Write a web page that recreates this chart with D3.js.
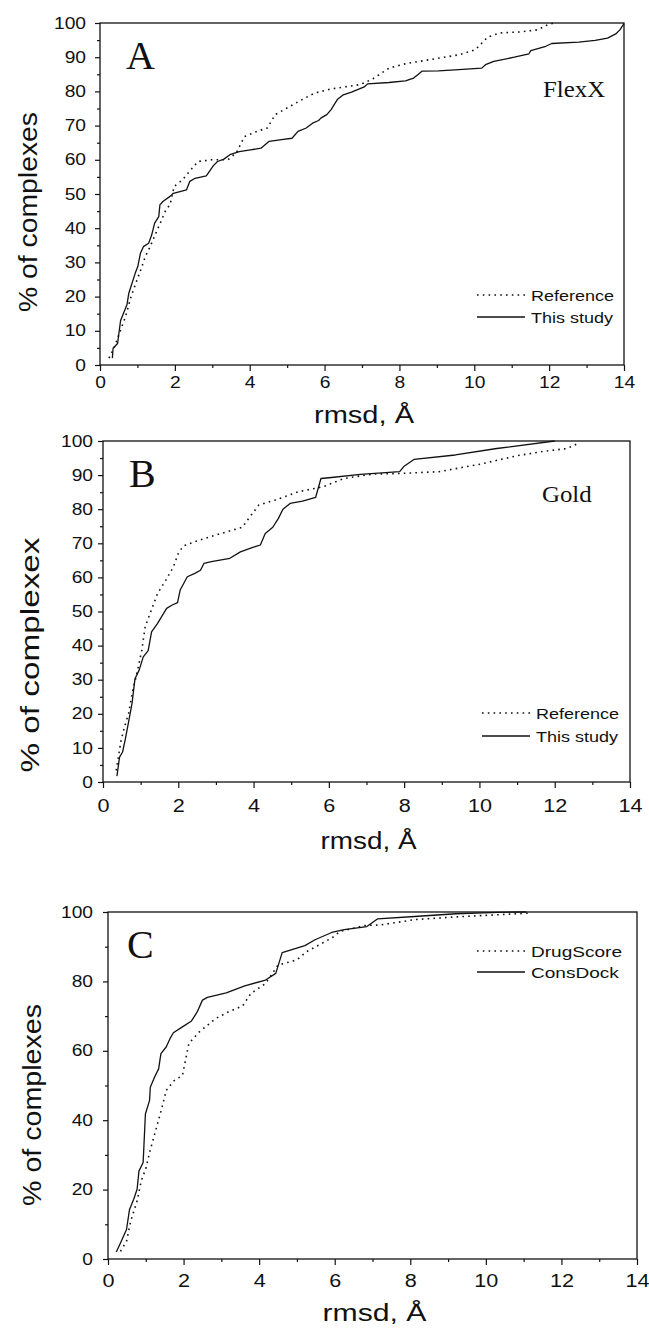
<!DOCTYPE html>
<html>
<head>
<meta charset="utf-8">
<script src="https://cdn.jsdelivr.net/npm/d3@7"></script>
<style>
  html, body { margin: 0; padding: 0; background: #fff; }
  svg { display: block; }
  text { font-family: Arial, "Liberation Sans", sans-serif; fill: #111; }
  .serif { font-family: "Times New Roman", "Liberation Serif", serif; }
</style>
</head>
<body>
<svg id="fig" width="649" height="1328"></svg>
<script>
// ---- data ----
var xTicks = [0, 2, 4, 6, 8, 10, 12, 14];
var xMinor = [1, 3, 5, 7, 9, 11, 13];
var yTicksAB = [0, 10, 20, 30, 40, 50, 60, 70, 80, 90, 100];
var yMinorAB = [5, 15, 25, 35, 45, 55, 65, 75, 85, 95];
var yTicksC = [0, 20, 40, 60, 80, 100];
var yMinorC = [10, 30, 50, 70, 90];

// A: FlexX
var flexxReference = [[0.24,2],[0.39,5.4],[0.55,10.2],[0.68,14.1],[0.83,20],[0.99,24.9],[1.12,28.8],[1.21,31.7],[1.34,34.6],[1.49,38.5],[1.63,42],[1.76,45.4],[1.87,46.8],[1.98,52.2],[2.2,54.1],[2.43,57.1],[2.62,59.5],[2.98,60],[3.42,60],[3.64,62],[3.86,66.8],[4.19,68.3],[4.47,69.3],[4.68,73.2],[5.07,75.6],[5.4,77.6],[5.73,79.5],[6.17,80.7],[6.95,82],[7.28,83.6],[7.72,86.8],[8.16,88.1],[8.93,89.5],[9.59,90.7],[10.03,92.2],[10.36,95.9],[10.69,97.1],[11.24,97.4],[11.69,98],[11.96,99.5],[12.13,100]];
var flexxThisStudy = [[0.33,2],[0.35,4.9],[0.47,6.3],[0.55,13],[0.72,17.6],[0.77,21],[0.94,26.8],[1.01,28.8],[1.08,32.7],[1.16,34.6],[1.3,35.6],[1.38,38],[1.46,41.5],[1.57,43.4],[1.6,46.8],[1.68,47.8],[1.87,49.3],[1.96,50.2],[2.31,51.2],[2.4,53.7],[2.54,54.6],[2.84,55.3],[3.03,58.3],[3.14,59.5],[3.31,60.2],[3.47,61.5],[3.72,62.4],[4.02,62.9],[4.3,63.4],[4.41,64.4],[4.52,65.4],[4.85,65.9],[5.13,66.3],[5.29,68.3],[5.51,69.3],[5.68,70.7],[5.84,71.5],[5.9,72.2],[6.06,73.2],[6.17,74.6],[6.34,77.6],[6.5,79],[6.72,79.8],[7.06,81.3],[7.15,82.2],[7.72,82.6],[8.16,83.1],[8.38,83.9],[8.49,84.9],[8.6,85.9],[9.04,86],[9.48,86.3],[10.2,86.8],[10.3,87.8],[10.52,88.8],[11.07,90],[11.46,91],[11.51,91.9],[11.91,93.2],[12.07,94],[12.79,94.4],[13.23,94.9],[13.56,95.6],[13.78,96.8],[13.89,98],[14,99.8]];

// B: Gold
var goldReference = [[0.35,3.4],[0.48,12.2],[0.57,16.1],[0.68,20.1],[0.79,26.9],[0.9,31.8],[1.03,38.6],[1.12,45.5],[1.25,49.4],[1.45,55.3],[1.67,59.2],[1.87,63.1],[2,67],[2.13,69.2],[2.44,70.5],[2.99,72.4],[3.7,74.7],[3.87,77.3],[4.14,81.2],[4.58,82.7],[5.19,85.1],[5.85,86.6],[6.4,89],[7.16,90.3],[7.93,90.5],[8.92,91],[10.02,93.2],[11.01,95.7],[11.67,96.9],[12.33,97.8],[12.66,99.5]];
var goldThisStudy = [[0.37,1.7],[0.44,7.3],[0.52,8.8],[0.59,12.4],[0.68,17.6],[0.77,23],[0.85,30.3],[0.96,32.8],[1.07,36.7],[1.2,38.5],[1.29,44],[1.45,46.5],[1.69,50.9],[1.84,51.9],[1.98,52.6],[2.05,56.3],[2.24,60.2],[2.44,61.2],[2.59,62.1],[2.68,64.1],[2.88,64.6],[3.37,65.6],[3.65,67.5],[3.98,68.8],[4.18,69.5],[4.31,72.9],[4.51,74.7],[4.66,77.3],[4.78,80],[4.97,81.7],[5.3,82.4],[5.65,83.5],[5.79,89],[6.07,89.3],[6.84,90.2],[7.88,91],[7.99,92.5],[8.26,94.6],[9.36,95.9],[10.46,97.8],[12,100]];

// C: DrugScore vs ConsDock
var drugScore = [[0.33,2.2],[0.49,5.1],[0.6,10.9],[0.77,16.7],[0.88,22.5],[1.01,26.4],[1.1,30.7],[1.26,37],[1.43,43.7],[1.54,48.6],[1.75,51.4],[1.97,52.9],[2.14,62.1],[2.41,65.4],[2.85,69.3],[3.18,71.2],[3.56,72.9],[3.78,76.5],[4.17,79.4],[4.5,84.7],[5,86.2],[5.26,88.6],[5.92,92.5],[6.14,94.4],[6.8,96.1],[7.24,96.3],[8.11,97.8],[9.21,98.6],[10.31,99.2],[11.18,99.7]];
var consDock = [[0.22,2],[0.33,4.6],[0.49,8.5],[0.57,14.3],[0.68,17.2],[0.77,20.1],[0.82,25.4],[0.93,27.8],[0.99,41.8],[1.1,45.7],[1.12,49.5],[1.23,52.4],[1.34,54.8],[1.4,59.2],[1.54,61.1],[1.64,63.5],[1.73,65.2],[1.97,66.9],[2.21,68.6],[2.36,71.2],[2.5,74.6],[2.63,75.4],[3.13,76.7],[3.62,78.7],[4.17,80.4],[4.44,82.3],[4.61,88.3],[5.21,90.3],[5.48,92],[5.92,94.1],[6.25,94.9],[6.85,95.8],[7.13,98],[8.11,98.7],[9.21,99.5],[10.31,99.9],[11.07,100]];

// ---- layout ----
var STRETCH = 1.2;   // the scanned figure is a bit wider than tall

var panels = [
  { letter: 'A', tag: 'FlexX', left: 100, right: 624, top: 23, bottom: 365,
    yTicks: yTicksAB, yMinor: yMinorAB, yTitle: '% of complexes',
    yTitleX: 28, yTitleY: 212, yTitleLen: 200, yLabelGap: 14, xFont: 16, xLabelDy: 23,
    xTitleY: 423, xTitleLen: 100,
    series: [ { name: 'Reference', values: flexxReference, dotted: true },
              { name: 'This study', values: flexxThisStudy, dotted: false } ],
    legX: 477, legY: 295, legStep: 22, tagX: 543, tagY: 97 },
  { letter: 'B', tag: 'Gold', left: 103, right: 630, top: 441, bottom: 782,
    yTicks: yTicksAB, yMinor: yMinorAB, yTitle: '% of complexex',
    yTitleX: 30, yTitleY: 655, yTitleLen: 235, yLabelGap: 10, xFont: 18, xLabelDy: 28,
    xTitleY: 849, xTitleLen: 96,
    series: [ { name: 'Reference', values: goldReference, dotted: true },
              { name: 'This study', values: goldThisStudy, dotted: false } ],
    legX: 482, legY: 713, legStep: 23, tagX: 542, tagY: 502 },
  { letter: 'C', tag: null, left: 108, right: 637, top: 912, bottom: 1259,
    yTicks: yTicksC, yMinor: yMinorC, yTitle: '% of complexes',
    yTitleX: 32, yTitleY: 1105, yTitleLen: 202, yLabelGap: 15, xFont: 18, xLabelDy: 26,
    xTitleY: 1321, xTitleLen: 104,
    series: [ { name: 'DrugScore', values: drugScore, dotted: true },
              { name: 'ConsDock', values: consDock, dotted: false } ],
    legX: 477, legY: 951, legStep: 21, tagX: null, tagY: null, wideLegend: true }
];

var svg = d3.select('#fig');

function stretch(sel, k) {
  sel.each(function () {
    var w = this.getComputedTextLength();
    this.setAttribute('textLength', w * k);
    this.setAttribute('lengthAdjust', 'spacingAndGlyphs');
  });
}

panels.forEach(function (p) {
  var x = d3.scaleLinear().domain([0, 14]).range([p.left, p.right]);
  var y = d3.scaleLinear().domain([0, 100]).range([p.bottom, p.top]);
  var g = svg.append('g');

  // frame
  g.append('rect')
    .attr('x', p.left).attr('y', p.top)
    .attr('width', p.right - p.left).attr('height', p.bottom - p.top)
    .attr('fill', 'none').attr('stroke', '#111').attr('stroke-width', 1.3);

  // axes: major + minor ticks
  var xAxis = g.append('g').attr('transform', 'translate(0,' + p.bottom + ')')
    .call(d3.axisBottom(x).tickValues(xTicks).tickSize(6).tickPadding(p.xLabelDy - 17).tickFormat(d3.format('d')));
  g.append('g').attr('transform', 'translate(0,' + p.bottom + ')')
    .call(d3.axisBottom(x).tickValues(xMinor).tickSize(3).tickFormat(''));
  var yAxis = g.append('g').attr('transform', 'translate(' + p.left + ',0)')
    .call(d3.axisLeft(y).tickValues(p.yTicks).tickSize(5).tickPadding(p.yLabelGap - 5).tickFormat(d3.format('d')));
  g.append('g').attr('transform', 'translate(' + p.left + ',0)')
    .call(d3.axisLeft(y).tickValues(p.yMinor).tickSize(3).tickFormat(''));

  g.selectAll('.domain').remove();
  g.selectAll('.tick line').attr('stroke', '#111').attr('stroke-width', 1.2);
  xAxis.selectAll('text').attr('font-size', p.xFont).attr('font-family', 'Arial').attr('fill', '#111');
  yAxis.selectAll('text').attr('font-size', 16).attr('font-family', 'Arial').attr('fill', '#111');
  stretch(xAxis.selectAll('text'), STRETCH);
  stretch(yAxis.selectAll('text'), STRETCH);

  // curves
  var line = d3.line().x(function (d) { return x(d[0]); }).y(function (d) { return y(d[1]); });
  p.series.forEach(function (s) {
    g.append('path')
      .datum(s.values)
      .attr('d', line)
      .attr('fill', 'none')
      .attr('stroke', '#111')
      .attr('stroke-width', s.dotted ? 1.6 : 1.3)
      .attr('stroke-dasharray', s.dotted ? '1.6,4.2' : null)
      .attr('stroke-linejoin', 'round');
  });

  // legend
  p.series.forEach(function (s, i) {
    var ly = p.legY + i * p.legStep;
    g.append('line')
      .attr('x1', p.legX).attr('x2', p.legX + 48)
      .attr('y1', ly).attr('y2', ly)
      .attr('stroke', '#111')
      .attr('stroke-width', s.dotted ? 1.6 : 1.3)
      .attr('stroke-dasharray', s.dotted ? '1.6,4.2' : null);
    var t = g.append('text')
      .attr('x', p.legX + 54).attr('y', ly + 5.5)
      .attr('font-size', 15)
      .text(s.name);
    stretch(t, p.wideLegend ? 1.27 : STRETCH);
  });

  // panel letter and program name
  g.append('text').attr('class', 'serif')
    .attr('x', p.left + (p.letter === 'C' ? 19 : 26)).attr('y', p.top + 46)
    .attr('font-size', 40)
    .text(p.letter);
  if (p.tag) {
    var tg = g.append('text').attr('class', 'serif')
      .attr('x', p.tagX).attr('y', p.tagY)
      .attr('font-size', 23)
      .text(p.tag);
    stretch(tg, 1.08);
  }

  // axis titles
  var xt = g.append('text')
    .attr('x', (p.left + p.right) / 2 + 2).attr('y', p.xTitleY)
    .attr('text-anchor', 'middle')
    .attr('font-size', 23)
    .text('rmsd, \u00C5');
  xt.attr('textLength', p.xTitleLen).attr('lengthAdjust', 'spacingAndGlyphs');

  g.append('text')
    .attr('transform', 'translate(' + (p.yTitleX + 9) + ',' + p.yTitleY + ') rotate(-90)')
    .attr('text-anchor', 'middle')
    .attr('font-size', 26)
    .attr('textLength', p.yTitleLen)
    .attr('lengthAdjust', 'spacingAndGlyphs')
    .text(p.yTitle);
});
</script>
</body>
</html>
